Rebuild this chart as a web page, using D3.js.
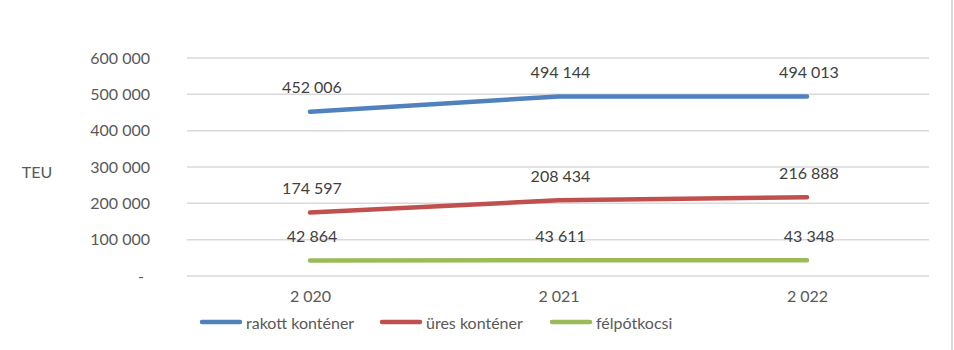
<!DOCTYPE html>
<html><head><meta charset="utf-8">
<script src="https://cdn.jsdelivr.net/npm/d3@7"></script>
<style>
body{margin:0;background:#fff;}
text{font-family:Lato,"Open Sans",sans-serif;}
</style></head>
<body><svg id="chart" width="954" height="350"></svg>
<script>
const years = [2020, 2021, 2022];
const yearLabels = ["2 020", "2 021", "2 022"];
const seriesNames = ["rakott konténer", "üres konténer", "félpótkocsi"];
const rakott = [452006, 494144, 494013];
const ures = [174597, 208434, 216888];
const felpot = [42864, 43611, 43348];
const yTicks = [0, 100000, 200000, 300000, 400000, 500000, 600000];
const colors = ["#4F81BD", "#C0504D", "#9BBB59"];
const allSeries = [rakott, ures, felpot];

const svg = d3.select("#chart");
const fmt = v => v === 0 ? "-" : d3.format(",")(v).replace(/,/g, " ");

const x = d3.scalePoint().domain(years).range([310, 807]);
const y = d3.scaleLinear().domain([0, 600000]).range([276, 58]);

// right border
svg.append("line").attr("x1", 952).attr("x2", 952).attr("y1", 0).attr("y2", 350)
  .attr("stroke", "#D9D9D9").attr("stroke-width", 2);

// gridlines
svg.append("g").selectAll("line").data(yTicks).join("line")
  .attr("x1", 187).attr("x2", 929)
  .attr("y1", d => y(d)).attr("y2", d => y(d))
  .attr("stroke", "#D9D9D9").attr("stroke-width", 1.5);

// y axis labels
const yAxis = d3.axisLeft(y).tickValues(yTicks).tickFormat(fmt).tickSize(0).tickPadding(0);
const gy = svg.append("g").attr("transform", "translate(150,0)").call(yAxis);
gy.select(".domain").remove();
gy.selectAll("text").attr("font-size", 16).attr("fill", "#595959")
  .style("font-family", "Lato, 'Open Sans', sans-serif");
gy.selectAll(".tick").filter(d => d === 0).select("text").attr("dx", -6);

// x axis labels
const xAxis = d3.axisBottom(x).tickFormat((d, i) => yearLabels[i]).tickSize(0).tickPadding(0);
const gx = svg.append("g").attr("transform", "translate(0,291)").call(xAxis);
gx.select(".domain").remove();
gx.selectAll("text").attr("font-size", 16).attr("fill", "#595959")
  .style("font-family", "Lato, 'Open Sans', sans-serif");

// TEU label
svg.append("text").attr("x", 37).attr("y", 171).attr("text-anchor", "middle")
  .attr("dominant-baseline", "central").attr("font-size", 16).attr("fill", "#595959").text("TEU");

// lines
const line = d3.line().x((d, i) => x(years[i])).y(d => y(d));
allSeries.forEach((s, k) => {
  svg.append("path").datum(s).attr("d", line).attr("fill", "none")
    .attr("stroke", colors[k]).attr("stroke-width", 4.5).attr("stroke-linecap", "round")
    .attr("stroke-linejoin", "round");
  svg.append("g").selectAll("text").data(s).join("text")
    .attr("x", (d, i) => x(years[i]) + 2)
    .attr("y", d => y(d) - 25)
    .attr("text-anchor", "middle").attr("dominant-baseline", "central")
    .attr("font-size", 16).attr("fill", "#404040")
    .text(d => fmt(d));
});

// legend
const legX = [202, 382, 552];
seriesNames.forEach((n, k) => {
  svg.append("line").attr("x1", legX[k]).attr("x2", legX[k] + 38)
    .attr("y1", 322).attr("y2", 322).attr("stroke", colors[k]).attr("stroke-width", 4.5)
    .attr("stroke-linecap", "round");
  svg.append("text").attr("x", legX[k] + 44).attr("y", 322)
    .attr("dominant-baseline", "central").attr("font-size", 16).attr("fill", "#595959").text(n);
});
</script></body></html>
